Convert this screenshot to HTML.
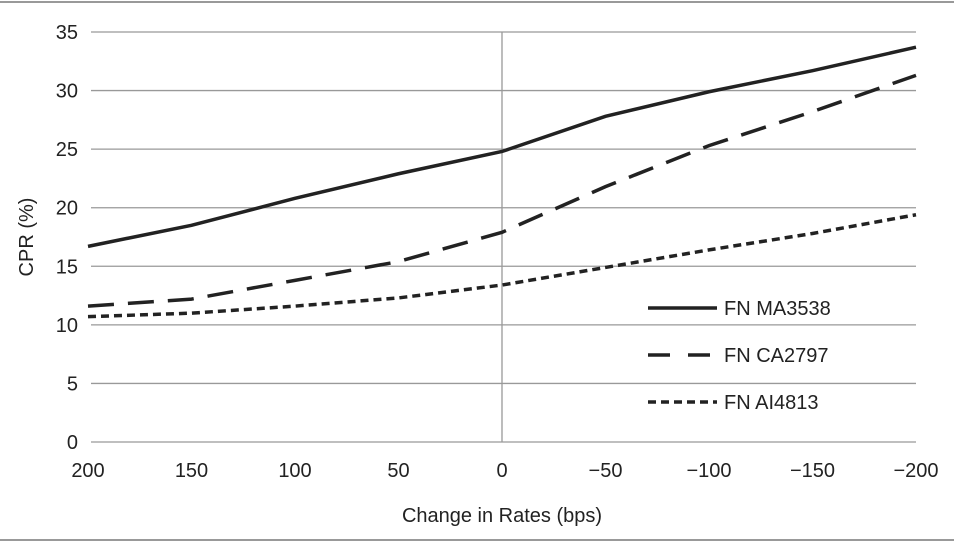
<!DOCTYPE html>
<html><head><meta charset="utf-8"><style>
body{margin:0;background:#fff;}
svg{display:block;font-family:"Liberation Sans",sans-serif;}
</style></head><body>
<svg id="chart" width="954" height="543">
<line x1="0" y1="2" x2="954" y2="2" stroke="#999" stroke-width="2"/>
<line x1="0" y1="540" x2="954" y2="540" stroke="#999" stroke-width="2"/>
<g id="grid"></g><g id="series"></g>
<text x="33" y="237" font-size="20" fill="#222" text-anchor="middle" transform="rotate(-90 33 237)">CPR (%)</text>
<text x="502" y="522" font-size="20" fill="#222" text-anchor="middle">Change in Rates (bps)</text>
<g id="legend"></g>
</svg>
<script>
const categories=["200","150","100","50","0","\u221250","\u2212100","\u2212150","\u2212200"];
const yTicks=[0,5,10,15,20,25,30,35];
const seriesNames=["FN MA3538","FN CA2797","FN AI4813"];
const ma3538=[16.7,18.5,20.8,22.9,24.8,27.8,29.9,31.7,33.7];
const ca2797=[11.6,12.2,13.8,15.4,17.9,21.8,25.3,28.2,31.3];
const ai4813=[10.7,11.0,11.6,12.3,13.4,14.9,16.4,17.8,19.4];
const NS="http://www.w3.org/2000/svg";
const x0=88,x1=916,yb=442,yt=32;
const xs=i=>x0+i*(x1-x0)/(categories.length-1);
const ys=v=>yb-v*(yb-yt)/35;
function mk(t,a,p){const e=document.createElementNS(NS,t);for(const k in a)e.setAttribute(k,a[k]);p.appendChild(e);return e;}
const grid=document.getElementById('grid');
yTicks.forEach(v=>{
 const l=mk('line',{x1:91,x2:x1,y1:ys(v),y2:ys(v),stroke:'#999','stroke-width':1.3},grid);
 
 
 const t=mk('text',{x:78,y:ys(v)+7,'font-size':20,fill:'#222','text-anchor':'end'},grid);t.textContent=v;
 
 
});
categories.forEach((c,i)=>{
 const t=mk('text',{x:xs(i),y:477,'font-size':20,fill:'#222','text-anchor':'middle'},grid);t.textContent=c;
 
 
});
const vl=mk('line',{x1:xs(4),x2:xs(4),y1:yt,y2:yb,stroke:'#999','stroke-width':1.3},grid);


const dashes=["none","26 14","8 5"];
const data=[ma3538,ca2797,ai4813];
const sg=document.getElementById('series'),lg=document.getElementById('legend');
data.forEach((d,k)=>{
 const p=mk('polyline',{points:d.map((v,i)=>xs(i)+','+ys(v)).join(' '),fill:'none',stroke:'#222','stroke-width':3.5,'stroke-dasharray':dashes[k]},sg);
 
 
 const ly=308+k*47;
 const ll=mk('line',{x1:648,x2:717,y1:ly,y2:ly,stroke:'#222','stroke-width':3.5,'stroke-dasharray':k==1?"22 18":dashes[k]},lg);
 
 
 const t=mk('text',{x:724,y:ly+7,'font-size':20,fill:'#222'},lg);t.textContent=seriesNames[k];
 
 
});
</script>
</body></html>
